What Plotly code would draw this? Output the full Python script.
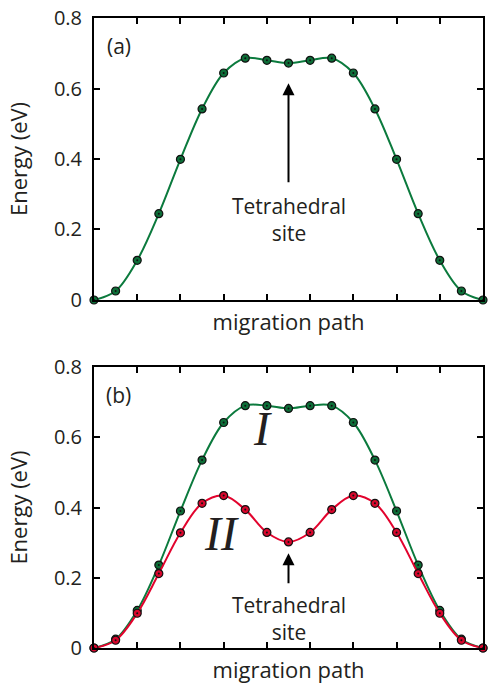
import plotly.graph_objects as go

# ---- data ----
path_idx = list(range(19))
energy_a = [0.0, 0.0255, 0.1125, 0.245, 0.399, 0.542, 0.644, 0.686, 0.680, 0.672,
            0.680, 0.686, 0.644, 0.542, 0.399, 0.245, 0.1125, 0.0255, 0.0]
energy_b_I = [0.0, 0.025, 0.107, 0.236, 0.390, 0.535, 0.642, 0.690, 0.690, 0.682,
              0.690, 0.690, 0.642, 0.535, 0.390, 0.236, 0.107, 0.025, 0.0]
energy_b_II = [0.0, 0.022, 0.099, 0.212, 0.328, 0.412, 0.434, 0.394, 0.329, 0.302,
               0.329, 0.394, 0.434, 0.412, 0.329, 0.212, 0.099, 0.022, 0.0]
x_ticks = [2, 4, 6, 8, 10, 12, 14, 16]
y_ticks = [0, 0.2, 0.4, 0.6, 0.8]
y_tick_text = ["0", "0.2", "0.4", "0.6", "0.8"]

GREEN = "#0b7a3d"
GREEN_FILL = "#0d6e38"
RED = "#e2032d"
RED_FILL = "#d8062c"
FONT = "Open Sans"
TXT = "#231f20"

fig = go.Figure()


def add_series(x, y, line_color, fill, xa, ya):
    fig.add_trace(go.Scatter(
        x=x, y=y, mode="lines+markers", xaxis=xa, yaxis=ya,
        line=dict(color=line_color, width=2, shape="spline", smoothing=1.0),
        marker=dict(size=8, color=fill, line=dict(color="#111111", width=1.2)),
        cliponaxis=False, showlegend=False, hoverinfo="skip"))
    fig.add_trace(go.Scatter(
        x=x, y=y, mode="markers", xaxis=xa, yaxis=ya,
        marker=dict(size=2, color="#111111"),
        cliponaxis=False, showlegend=False, hoverinfo="skip"))


add_series(path_idx, energy_a, GREEN, GREEN_FILL, "x", "y")
add_series(path_idx, energy_b_I, GREEN, GREEN_FILL, "x2", "y2")
add_series(path_idx, energy_b_II, RED, RED_FILL, "x2", "y2")

axis_common = dict(
    showline=True, linecolor="black", linewidth=2, mirror="ticks",
    ticks="inside", ticklen=6, tickwidth=2, tickcolor="black",
    showgrid=False, zeroline=False,
)

xcommon = dict(axis_common, range=[0, 18], tickvals=x_ticks, showticklabels=False,
               title=dict(text="migration path", font=dict(family=FONT, size=22, color=TXT),
                          standoff=14))
ycommon = dict(axis_common, range=[0, 0.8], tickvals=y_ticks, ticktext=y_tick_text,
               ticklabelstandoff=6,
               tickfont=dict(family=FONT, size=20, color=TXT),
               title=dict(text="Energy (eV)", font=dict(family=FONT, size=22, color=TXT),
                          standoff=20))

fig.update_layout(
    width=489, height=695,
    margin=dict(l=94, r=4, t=18, b=47),
    plot_bgcolor="white", paper_bgcolor="white",
    xaxis=dict(xcommon, domain=[0, 1], anchor="y"),
    yaxis=dict(ycommon, domain=[0.5524, 1.0], anchor="x"),
    xaxis2=dict(xcommon, domain=[0, 1], anchor="y2"),
    yaxis2=dict(ycommon, domain=[0.0, 0.446], anchor="x2"),
)

ann = []
# panel labels
ann.append(dict(text="(a)", x=1.15, y=0.72, xref="x", yref="y", showarrow=False,
                font=dict(family=FONT, size=21, color=TXT)))
ann.append(dict(text="(b)", x=1.15, y=0.72, xref="x2", yref="y2", showarrow=False,
                font=dict(family=FONT, size=21, color=TXT)))
# arrows
ann.append(dict(text="", x=9, y=0.615, ax=9, ay=0.33, xref="x", yref="y", axref="x", ayref="y",
                showarrow=True, arrowhead=2, arrowsize=1.2, arrowwidth=2, arrowcolor="black"))
ann.append(dict(text="Tetrahedral<br>site", x=9, y=0.227, xref="x", yref="y", showarrow=False,
                font=dict(family=FONT, size=21, color=TXT)))
ann.append(dict(text="", x=9, y=0.27, ax=9, ay=0.18, xref="x2", yref="y2", axref="x2", ayref="y2",
                showarrow=True, arrowhead=2, arrowsize=1.2, arrowwidth=2, arrowcolor="black"))
ann.append(dict(text="Tetrahedral<br>site", x=9, y=0.083, xref="x2", yref="y2", showarrow=False,
                font=dict(family=FONT, size=21, color=TXT)))
# curve labels
ann.append(dict(text="<i>I</i>", x=7.8, y=0.625, xref="x2", yref="y2", showarrow=False,
                font=dict(family="Liberation Serif", size=48, color=TXT)))
ann.append(dict(text="<i>II</i>", x=5.9, y=0.325, xref="x2", yref="y2", showarrow=False,
                font=dict(family="Liberation Serif", size=48, color=TXT)))
fig.update_layout(annotations=ann)

fig.write_html("out.html")
